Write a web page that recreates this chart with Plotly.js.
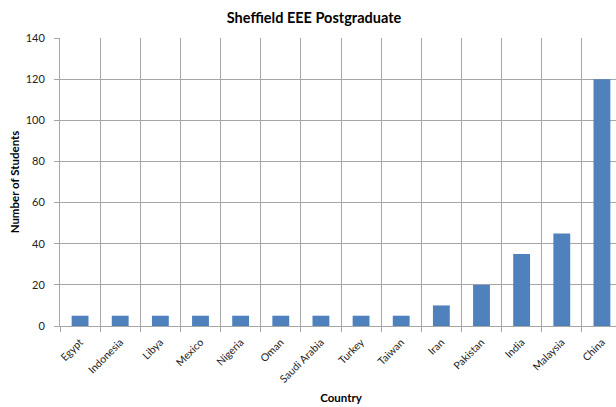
<!DOCTYPE html>
<html>
<head>
<meta charset="utf-8">
<script src="https://cdn.plot.ly/plotly-3.0.1.min.js"></script>
<style>
html,body{margin:0;padding:0;overflow:hidden;background:#fff;width:616px;height:407px;}
#chart{width:640px;height:407px;}
</style>
</head>
<body>
<div id="chart"></div>
<script>
const countries = ["Egypt","Indonesia","Libya","Mexico","Nigeria","Oman","Saudi Arabia","Turkey","Taiwan","Iran","Pakistan","India","Malaysia","China"];
const students = [5,5,5,5,5,5,5,5,5,10,20,35,45,120];
const yTicks = [0,20,40,60,80,100,120,140];

const font = "Lato, 'Open Sans', 'Liberation Sans', sans-serif";
const gridColor = "#A6A6A6";

Plotly.newPlot("chart", [{
  type: "bar",
  x: countries,
  y: students,
  marker: {color: "#4F81BD", line: {width: 0}},
  hoverinfo: "x+y"
}], {
  width: 640,
  height: 407,
  margin: {l: 60, r: 18, t: 38, b: 81},
  paper_bgcolor: "#fff",
  plot_bgcolor: "#fff",
  bargap: 0.58,
  showlegend: false,
  title: {
    text: "<b>Sheffield EEE Postgraduate</b>",
    font: {family: font, size: 14.5, color: "#000"},
    x: 314/640, xref: "container", xanchor: "center",
    y: 1 - 18/407, yref: "container", yanchor: "middle"
  },
  xaxis: {
    type: "category",
    tickson: "boundaries",
    showgrid: true,
    gridcolor: gridColor,
    gridwidth: 1,
    ticks: "outside",
    ticklen: 5,
    tickcolor: gridColor,
    showline: true,
    linecolor: gridColor,
    tickangle: -45,
    ticklabelstandoff: 5,
    tickfont: {family: font, size: 10.5, color: "#222"},
    title: {text: "<b>Country</b>", font: {family: font, size: 11.5, color: "#000"}, standoff: 10},
    fixedrange: true
  },
  yaxis: {
    range: [0, 140],
    tickvals: yTicks,
    ticktext: yTicks.map(String),
    showgrid: true,
    gridcolor: gridColor,
    gridwidth: 1,
    zeroline: false,
    ticks: "outside",
    ticklen: 5,
    tickcolor: gridColor,
    showline: true,
    linecolor: gridColor,
    ticklabelstandoff: 7,
    tickfont: {family: font, size: 11, color: "#222"},
    title: {text: "<b>Number of Students</b>", font: {family: font, size: 11.5, color: "#000"}, standoff: 3},
    fixedrange: true
  }
}, {displayModeBar: false, staticPlot: true});
</script>
</body>
</html>
